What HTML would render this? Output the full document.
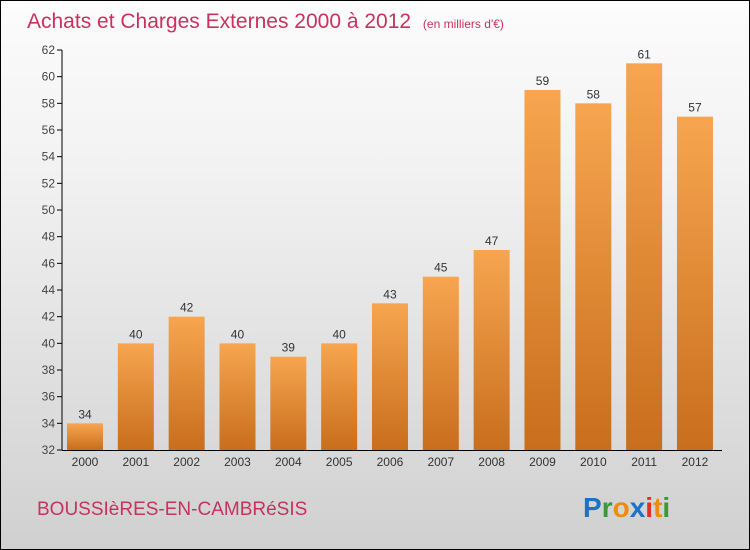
<!DOCTYPE html>
<html><head><meta charset="utf-8"><style>
body{margin:0}
#c{width:748px;height:548px;border:1px solid #000;background:linear-gradient(#fcfcfc,#f2f2f2 30%,#d0d0d0);position:relative;font-family:"Liberation Sans",sans-serif;overflow:hidden}
</style></head><body>
<div id="c">
<svg width="748" height="548" id="svg">
<defs><linearGradient id="g" x1="0" y1="0" x2="0" y2="1"><stop offset="0" stop-color="#f7a550"/><stop offset="1" stop-color="#c86e1c"/></linearGradient></defs>
<text x="26" y="27" font-size="21" fill="#c8325e">Achats et Charges Externes 2000 à 2012 <tspan font-size="12" dx="6">(en milliers d'€)</tspan></text>
<text x="36" y="514" font-size="19" fill="#c8325e">BOUSSIèRES-EN-CAMBRéSIS</text>
<g font-size="28" font-weight="bold">
<text x="582" y="516" fill="#1a73c8">P<tspan fill="#3a9a3a">r</tspan><tspan fill="#f08a10">o</tspan><tspan fill="#1a73c8">x</tspan><tspan fill="#e03020">i</tspan><tspan fill="#f08a10">t</tspan><tspan fill="#3a9a3a">i</tspan></text>
</g>
<g id="plot"></g>
</svg>
</div>
<script>
const years=["2000","2001","2002","2003","2004","2005","2006","2007","2008","2009","2010","2011","2012"];
const values=[34,40,42,40,39,40,43,45,47,59,58,61,57];
const yTicks=[32,34,36,38,40,42,44,46,48,50,52,54,56,58,60,62];
const NS="http://www.w3.org/2000/svg";
const plot=document.getElementById('plot');
const y0=449,yMin=32,pxPer=400/30;
const yS=v=>y0-(v-yMin)*pxPer;
const xS=i=>84+i*50.83;
function el(t,a,p){const e=document.createElementNS(NS,t);for(const k in a)e.setAttribute(k,a[k]);(p||plot).appendChild(e);return e;}
yTicks.forEach(v=>{
 const t=el('line',{x1:56,x2:61,y1:yS(v),y2:yS(v),stroke:'#000'});
 
 
 const l=el('text',{x:54,y:yS(v)+4,'font-size':12,'text-anchor':'end',fill:'#444'});
 l.textContent=v;
 
 
});
values.forEach((v,i)=>{
 const x=xS(i);
 const b=el('rect',{x:x-18,y:yS(v),width:36,height:y0-yS(v),fill:'url(#g)'});
 
 
 const t=el('text',{x:x,y:yS(v)-5,'font-size':12,'text-anchor':'middle',fill:'#333'});
 t.textContent=v;
 
 
 const xl=el('text',{x:x,y:y0+16,'font-size':12,'text-anchor':'middle',fill:'#333'});
 xl.textContent=years[i];
 
 
});
const ya=el('line',{x1:61,x2:61,y1:yS(62),y2:y0,stroke:'#000'});


const xa=el('line',{x1:61,x2:721,y1:y0+0.5,y2:y0+0.5,stroke:'#000'});


</script>
</body></html>
